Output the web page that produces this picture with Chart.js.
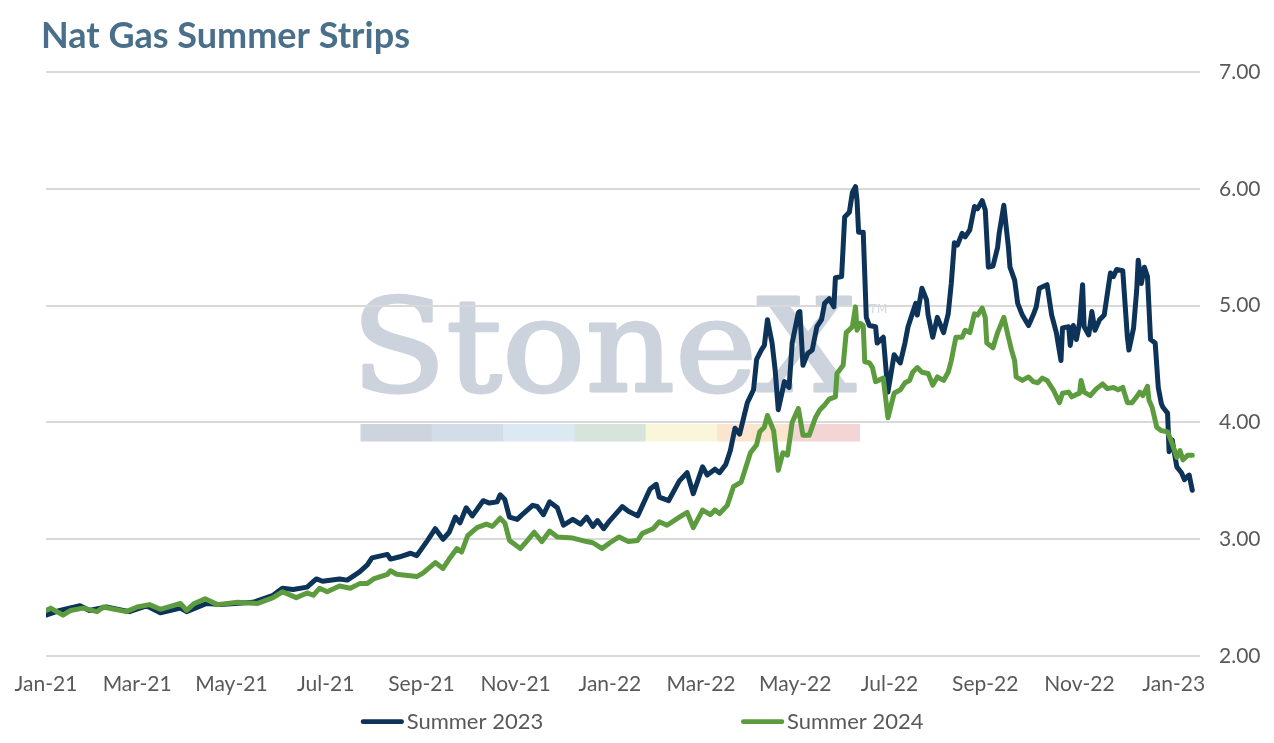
<!DOCTYPE html>
<html>
<head>
<meta charset="utf-8">
<title>Nat Gas Summer Strips</title>
<script src="https://cdn.jsdelivr.net/npm/chart.js@4.4.0/dist/chart.umd.min.js"></script>
<style>
  html, body { margin: 0; padding: 0; background: #ffffff; }
  #wrap { width: 1274px; height: 743px; position: relative; }
</style>
</head>
<body>
<div id="wrap"><canvas id="c" width="1274" height="743"></canvas></div>
<script>
// ---------------- DATA ----------------
const chartTitle = 'Nat Gas Summer Strips';
const seriesNames = ['Summer 2023', 'Summer 2024'];
const startDate = '2021-01-01';           // day 0 of the x values below
const tickDates = ['2021-01-01','2021-03-01','2021-05-01','2021-07-01','2021-09-01','2021-11-01',
                   '2022-01-01','2022-03-01','2022-05-01','2022-07-01','2022-09-01','2022-11-01','2023-01-01'];
const tickLabels = ['Jan-21','Mar-21','May-21','Jul-21','Sep-21','Nov-21',
                    'Jan-22','Mar-22','May-22','Jul-22','Sep-22','Nov-22','Jan-23'];
const xEndDate = '2023-01-18';
const yMin = 2, yMax = 7, yStep = 1;

// Summer 2023 strip: calendar days since startDate, and price ($/MMBtu)
const s23Day = [
  0,9,22,28,39,54,65,74,87,91,
  104,113,134,147,153,160,169,175,179,190,
  195,203,208,211,221,223,229,236,240,247,
  252,257,261,265,268,272,276,283,287,292,
  294,297,300,305,309,315,318,322,326,331,
  335,341,346,350,354,357,361,365,373,377,
  383,391,395,397,403,410,415,419,425,428,
  433,436,440,443,446,449,454,458,460,463,
  465,467,470,472,474,478,481,483,487,488,
  490,493,496,499,502,504,507,510,511,515,
  517,520,522,524,525,526,529,531,533,537,
  538,542,545,549,553,556,558,560,563,564,
  567,570,571,574,577,581,584,586,588,590,
  593,595,598,601,603,606,608,610,613,616,
  617,620,623,624,627,629,632,636,639,641,
  643,648,651,654,657,658,662,663,665,667,
  669,671,672,675,677,679,682,685,689,691,
  693,697,700,701,704,706,707,709,711,713,
  715,718,720,722,723,726,727,729,732,735,
  737,739,740,742
];
const s23Val = [
  2.35,2.39,2.43,2.39,2.42,2.38,2.43,2.37,2.41,2.38,
  2.45,2.44,2.46,2.52,2.58,2.57,2.59,2.66,2.64,2.66,
  2.65,2.72,2.78,2.84,2.87,2.83,2.85,2.88,2.86,2.99,
  3.09,3.00,3.06,3.19,3.14,3.27,3.20,3.33,3.31,3.32,
  3.38,3.34,3.19,3.17,3.22,3.29,3.28,3.21,3.32,3.27,
  3.12,3.17,3.13,3.19,3.11,3.16,3.09,3.16,3.28,3.24,
  3.20,3.43,3.47,3.36,3.33,3.50,3.57,3.39,3.62,3.55,
  3.60,3.57,3.64,3.76,3.95,3.90,4.17,4.28,4.54,4.62,
  4.66,4.88,4.68,4.45,4.11,4.35,4.30,4.68,4.94,4.95,
  4.49,4.59,4.62,4.82,4.88,5.02,5.06,4.99,5.24,5.25,
  5.76,5.80,5.97,6.02,5.90,5.63,5.63,4.90,4.83,4.82,
  4.68,4.73,4.26,4.58,4.51,4.68,4.82,4.90,5.02,4.92,
  5.15,5.05,4.92,4.73,4.90,4.77,4.93,5.19,5.54,5.52,
  5.62,5.59,5.65,5.85,5.83,5.90,5.82,5.33,5.34,5.50,
  5.62,5.86,5.50,5.33,5.22,5.02,4.92,4.83,4.92,4.99,
  5.15,5.18,4.92,4.77,4.53,4.81,4.82,4.66,4.83,4.71,
  4.85,5.18,4.82,4.75,4.95,4.79,4.88,4.92,5.28,5.25,
  5.31,5.30,4.73,4.62,4.81,5.13,5.39,5.19,5.33,5.25,
  4.71,4.68,4.30,4.16,4.13,4.08,3.75,3.85,3.62,3.57,
  3.51,3.54,3.55,3.42
];

// Summer 2024 strip: calendar days since startDate, and price ($/MMBtu)
const s24Day = [
  0,3,11,16,24,33,37,52,59,67,
  74,87,91,96,103,111,124,137,147,153,
  162,169,173,177,182,190,197,203,208,212,
  221,223,227,240,244,252,257,261,266,269,
  273,279,285,289,294,297,300,307,311,316,
  321,326,331,341,350,354,360,365,371,377,
  383,386,393,397,402,410,415,419,425,430,
  433,436,441,445,450,456,460,462,465,467,
  471,474,477,480,483,487,490,494,498,501,
  504,507,511,512,516,518,522,524,525,527,
  529,530,533,535,537,542,545,549,553,556,
  559,561,564,567,571,574,577,581,584,586,
  589,593,595,598,601,603,606,608,609,613,
  616,620,623,625,627,628,632,636,639,642,
  645,648,652,656,658,662,664,667,669,670,
  672,676,680,684,687,691,694,697,700,703,
  706,708,710,713,714,716,719,722,726,729,
  732,734,736,739,742
];
const s24Val = [
  2.39,2.41,2.35,2.39,2.41,2.38,2.42,2.38,2.42,2.44,
  2.40,2.45,2.39,2.45,2.49,2.44,2.46,2.45,2.50,2.55,
  2.50,2.54,2.52,2.58,2.55,2.60,2.58,2.62,2.62,2.66,
  2.70,2.73,2.70,2.68,2.71,2.80,2.75,2.83,2.92,2.89,
  3.03,3.10,3.13,3.11,3.18,3.14,2.99,2.92,2.98,3.06,
  2.98,3.07,3.02,3.01,2.98,2.97,2.92,2.97,3.02,2.98,
  2.99,3.05,3.09,3.15,3.12,3.19,3.23,3.10,3.25,3.21,
  3.25,3.22,3.29,3.45,3.49,3.74,3.81,3.92,3.96,4.06,
  3.93,3.59,3.74,3.72,4.00,4.12,3.89,3.89,4.04,4.11,
  4.15,4.20,4.22,4.42,4.49,4.77,4.82,4.99,4.79,4.85,
  4.83,4.52,4.51,4.47,4.35,4.38,4.04,4.25,4.28,4.34,
  4.36,4.43,4.47,4.43,4.42,4.32,4.39,4.36,4.43,4.53,
  4.73,4.73,4.79,4.77,4.93,4.92,4.98,4.90,4.68,4.64,
  4.77,4.90,4.73,4.62,4.53,4.39,4.36,4.39,4.35,4.34,
  4.38,4.36,4.28,4.17,4.25,4.26,4.22,4.24,4.25,4.36,
  4.26,4.23,4.29,4.33,4.29,4.30,4.28,4.30,4.17,4.17,
  4.22,4.26,4.23,4.31,4.19,4.13,3.96,3.93,3.92,3.82,
  3.70,3.76,3.68,3.72,3.72
];

// ---------------- STYLE ----------------
const COLORS = { s23: '#0d3358', s24: '#5c9c3e', title: '#4a6f8a', text: '#595959', grid: '#d9d9d9', mark: '#ccd3dc' };
const FONT = 'Lato, "Open Sans", "DejaVu Sans", sans-serif';

const DAY_MS = 86400000;
const t0 = Date.parse(startDate + 'T00:00:00Z');
const dayOf = s => Math.round((Date.parse(s + 'T00:00:00Z') - t0) / DAY_MS);
const toPoints = (days, vals) => days.map((d, i) => ({ x: d, y: vals[i] }));

// Watermark (StoneX logo) drawn under the grid
const watermarkPlugin = {
  id: 'watermark',
  beforeDraw(chart) {
    const ctx = chart.ctx;
    ctx.save();
    ctx.textAlign = 'left';
    ctx.textBaseline = 'alphabetic';
    ctx.fillStyle = COLORS.mark;
    ctx.strokeStyle = COLORS.mark;
    ctx.font = '100px "DejaVu Serif", "Liberation Serif", serif';
    let m = ctx.measureText('StoneX');
    const inkH = m.actualBoundingBoxAscent + m.actualBoundingBoxDescent;
    const size = 100 * 98 / inkH;
    ctx.font = size + 'px "DejaVu Serif", "Liberation Serif", serif';
    m = ctx.measureText('StoneX');
    const inkW = m.actualBoundingBoxLeft + m.actualBoundingBoxRight;
    const sx = 494 / inkW;
    ctx.save();
    ctx.translate(362, 392.5 - m.actualBoundingBoxDescent);
    ctx.scale(sx, 1);
    ctx.fillText('StoneX', m.actualBoundingBoxLeft, 0);
    ctx.lineWidth = 3;
    ctx.lineJoin = 'round';
    ctx.strokeText('StoneX', m.actualBoundingBoxLeft, 0);
    ctx.restore();
    ctx.fillStyle = '#d3d9e0';
    ctx.font = '12.5px "DejaVu Sans", sans-serif';
    ctx.fillText('TM', 869, 312.5);
    const barColors = ['#cdd4dd', '#d3dde7', '#dce8f2', '#d6e4db', '#faf6dc', '#fbe5cf', '#f3d5d6'];
    const bw = 499 / 7;
    barColors.forEach((c, i) => {
      ctx.fillStyle = c;
      ctx.fillRect(360.5 + i * bw, 424, bw + 0.5, 17.5);
    });
    ctx.restore();
  }
};

// Legend drawn at the bottom (line marker directly followed by label)
const bottomLegendPlugin = {
  id: 'bottomLegend',
  afterDraw(chart) {
    const ctx = chart.ctx;
    const itemX = [360.7, 741];
    ctx.save();
    chart.data.datasets.forEach((ds, i) => {
      const x = itemX[i];
      ctx.strokeStyle = ds.borderColor;
      ctx.lineWidth = 4.7;
      ctx.lineCap = 'round';
      ctx.beginPath();
      ctx.moveTo(x + 2.35, 721.7);
      ctx.lineTo(x + 43.3 - 2.35, 721.7);
      ctx.stroke();
      ctx.fillStyle = COLORS.text;
      ctx.font = '22px ' + FONT;
      ctx.textAlign = 'left';
      ctx.textBaseline = 'middle';
      ctx.fillText(ds.label, x + 46, 722.3);
    });
    ctx.restore();
  }
};

new Chart(document.getElementById('c'), {
  type: 'line',
  data: {
    datasets: [
      { label: seriesNames[0], data: toPoints(s23Day, s23Val), xAxisID: 'x', yAxisID: 'y',
        borderColor: COLORS.s23, backgroundColor: COLORS.s23, borderWidth: 5, order: 1 },
      { label: seriesNames[1], data: toPoints(s24Day, s24Val), xAxisID: 'x', yAxisID: 'y',
        borderColor: COLORS.s24, backgroundColor: COLORS.s24, borderWidth: 5, order: 0 }
    ]
  },
  options: {
    responsive: false,
    animation: false,
    devicePixelRatio: 1,
    elements: {
      line: { borderWidth: 5, tension: 0, borderJoinStyle: 'round', borderCapStyle: 'round' },
      point: { radius: 0, hoverRadius: 0 }
    },
    layout: { padding: { left: 41, right: 12, top: 0, bottom: 47 } },
    plugins: {
      legend: { display: false },
      tooltip: { enabled: false },
      title: {
        display: true, text: chartTitle, align: 'start', color: COLORS.title,
        font: { family: FONT, size: 36, weight: 'bold' },
        padding: { top: 15, bottom: 14 }
      }
    },
    scales: {
      x: {
        type: 'linear', min: 0, max: dayOf(xEndDate),
        grid: { display: false }, border: { display: false },
        afterBuildTicks(scale) { scale.ticks = tickDates.map(d => ({ value: dayOf(d) })); },
        afterFit(scale) { scale.height = 40; },
        ticks: {
          autoSkip: false, maxRotation: 0, minRotation: 0, padding: 8,
          color: COLORS.text, font: { family: FONT, size: 21 },
          callback: (v, i) => tickLabels[i]
        }
      },
      yPad: {
        type: 'linear', position: 'left', display: true,
        grid: { display: false }, border: { display: false }, ticks: { display: false },
        afterFit(scale) { scale.width = 5; }
      },
      y: {
        type: 'linear', position: 'right', min: yMin, max: yMax,
        grid: { color: COLORS.grid, lineWidth: 2, drawTicks: false },
        border: { display: false },
        afterFit(scale) { scale.width = 62; },
        ticks: {
          stepSize: yStep, padding: 19, color: COLORS.text,
          font: { family: FONT, size: 21 },
          callback: v => Number(v).toFixed(2)
        }
      }
    }
  },
  plugins: [watermarkPlugin, bottomLegendPlugin]
});
</script>
</body>
</html>
